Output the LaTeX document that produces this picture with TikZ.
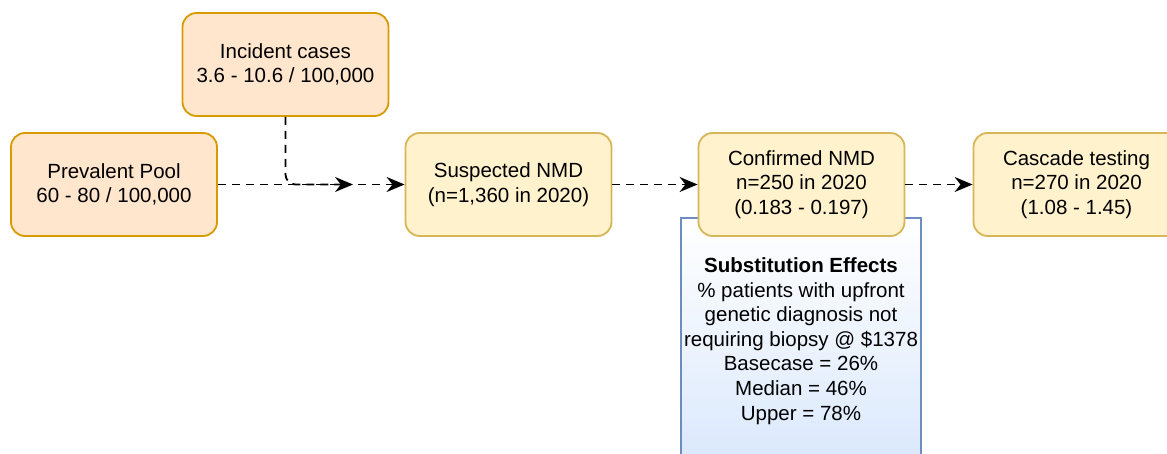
\documentclass[tikz,border=0pt]{standalone}
\usepackage{fontspec}
\setmainfont{Liberation Sans}
\usepackage{tikz}
\usetikzlibrary{arrows.meta}
\definecolor{poolFill}{HTML}{FFE6CC}
\definecolor{poolLine}{HTML}{D79B00}
\definecolor{stageFill}{HTML}{FFF2CC}
\definecolor{stageLine}{HTML}{D6B656}
\definecolor{effectFill}{HTML}{DAE8FC}
\definecolor{effectLine}{HTML}{6C8EBF}

\begin{document}
\begin{tikzpicture}[
  x=0.5pt,
  y=-0.5pt,
  every node/.style={
    font=\fontsize{10.25}{12.3}\selectfont,
    align=center,
    inner sep=0pt,
  },
  box/.style={
    rectangle,
    rounded corners=7pt,
    line width=0.9pt,
    minimum width=103pt,
    minimum height=51.5pt,
  },
  pool/.style={
    box,
    draw=poolLine,
    fill=poolFill,
  },
  stage/.style={
    box,
    draw=stageLine,
    fill=stageFill,
  },
  effect/.style={
    rectangle,
    draw=effectLine,
    line width=0.9pt,
    top color=white,
    bottom color=effectFill,
    minimum width=120pt,
    minimum height=123pt,
  },
  flow/.style={
    draw=black,
    line width=0.9pt,
    dash pattern=on 4pt off 3pt,
    -{Stealth[length=9pt,width=7.5pt]},
  }
]
\path[use as bounding box, clip] (0,0) rectangle (1167,454);
\node[pool] (prevPool) at (114,184.5) {Prevalent Pool\\60 - 80 / 100,000};
\node[pool] (incCases) at (285.5,64.5) {Incident cases\\3.6 - 10.6 / 100,000};
\node[stage] (suspNMD) at (508.5,184.5) {Suspected NMD\\(n=1,360 in 2020)};
\node[effect] (subEffects) at (801,341) {\textbf{Substitution Effects}\\\% patients with upfront\\genetic diagnosis not\\requiring biopsy @ \$1378\\Basecase = 26\%\\Median = 46\%\\Upper = 78\%};
\node[stage] (confNMD) at (801.5,184.5) {Confirmed NMD\\n=250 in 2020\\(0.183 - 0.197)};
\node[stage] (cascTest) at (1076.5,184.5) {Cascade testing\\n=270 in 2020\\(1.08 - 1.45)};
\coordinate (incJoin) at (353,184.5);
\draw[flow, rounded corners=5pt] (incCases) |- (incJoin);
\foreach \a/\b in {prevPool/suspNMD, suspNMD/confNMD, confNMD/cascTest} {
  \draw[flow] (\a) -- (\b);
}
\end{tikzpicture}
\end{document}
